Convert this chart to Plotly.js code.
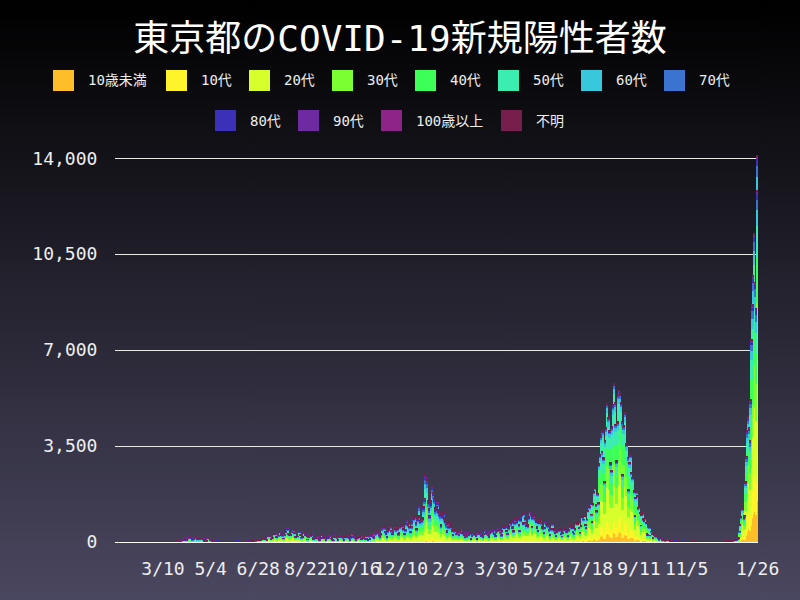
<!DOCTYPE html>
<html><head><meta charset="utf-8">
<script src="https://cdn.plot.ly/plotly-3.0.1.min.js"></script>
<style>
html{background:#4a4760;margin:0;padding:0}
body{margin:0;padding:0;width:800px;height:600px;overflow:hidden;background:linear-gradient(to bottom,#000000 0%,#4a4760 100%)}
#chart{width:800px;height:600px}
</style>
</head><body><div id="chart"></div><script>
// ---- data ----
const startDate = '2020-01-15';
const dailyTotals = [
// 2020-01 (15-31)
0,0,0,0,0,0,0,0,0,1,1,0,0,0,0,1,0,
// 2020-02
0,0,0,0,0,0,0,0,0,0,0,0,1,2,8,5,0,3,3,1,3,1,0,3,1,1,3,1,0,
// 2020-03
1,2,4,2,8,6,2,0,3,3,6,3,2,5,2,1,7,9,2,11,7,3,16,17,41,47,40,63,68,13,78,
// 2020-04
66,97,89,116,143,83,80,144,178,189,197,166,91,161,127,149,201,181,107,102,123,132,134,161,103,72,39,112,47,46,
// 2020-05
165,154,91,87,58,38,23,39,36,22,15,28,10,30,9,14,5,10,5,5,11,3,2,14,8,10,11,15,22,14,5,
// 2020-06
13,34,12,28,20,26,14,13,12,18,22,25,24,47,48,27,16,41,35,39,35,29,31,55,48,54,57,60,58,54,
// 2020-07
67,107,124,131,111,102,106,75,224,243,206,206,119,143,165,286,293,290,188,168,237,238,366,260,295,239,131,266,250,367,463,
// 2020-08
472,292,258,309,263,360,462,429,331,197,188,222,206,389,385,260,161,207,186,339,258,256,212,95,182,236,250,226,247,148,100,
// 2020-09
170,141,211,136,181,116,77,170,149,276,187,146,146,80,191,163,171,220,218,132,98,88,59,195,270,218,144,78,212,194,
// 2020-10
235,196,207,143,69,178,177,187,186,249,146,78,166,177,284,185,235,132,78,139,150,185,186,203,124,102,158,171,221,122,215,
// 2020-11
116,87,209,122,269,242,294,189,157,293,317,393,374,352,255,180,298,493,534,522,539,391,314,186,401,481,570,561,418,311,
// 2020-12
372,500,533,449,584,480,299,352,572,602,595,621,480,305,460,678,822,664,736,556,392,563,748,888,884,949,708,481,856,944,1337,
// 2021-01
783,814,816,884,1278,1591,2447,2392,2268,1494,1219,970,1433,1502,2044,1809,1592,1204,1240,1274,1471,1175,1070,986,618,1026,973,1064,868,769,633,
// 2021-02
393,556,676,734,577,639,429,276,412,491,434,307,369,371,266,378,445,353,353,327,272,178,275,213,340,270,337,329,
// 2021-03
121,232,316,279,301,293,237,116,290,340,335,304,239,239,175,300,409,323,303,342,256,187,337,420,394,376,430,313,234,364,414,
// 2021-04
475,440,446,355,249,399,555,545,537,570,421,306,510,591,729,667,759,543,405,711,843,861,759,876,635,425,828,925,1027,698,
// 2021-05
1050,879,708,609,621,591,907,1121,1032,573,925,969,1010,854,772,542,419,732,766,843,712,539,521,340,535,743,684,614,594,449,260,
// 2021-06
471,487,676,472,436,351,235,369,440,439,435,467,304,209,337,501,452,453,388,376,236,435,619,570,562,534,386,317,476,714,
// 2021-07
673,660,716,518,342,593,920,896,822,950,614,502,830,1149,1308,1271,1410,1008,727,1387,1832,1979,1359,1128,1763,1429,2848,3177,3865,3300,4058,
// 2021-08
3058,2195,3709,4166,5042,4515,4566,4066,2884,2612,4200,4989,5773,5094,4295,2962,4377,5386,5534,5405,5074,4392,2447,4220,4228,4704,3581,3581,3081,1915,2909,
// 2021-09
3168,2539,2362,2362,1853,968,1629,1834,1675,1242,1273,1067,611,1004,1052,831,782,862,697,302,253,537,531,235,382,299,154,267,267,218,
// 2021-10
200,200,161,87,149,144,138,82,74,60,49,77,72,62,57,66,40,29,36,41,36,26,32,19,17,29,36,21,21,22,22,
// 2021-11
9,29,16,21,25,19,18,18,20,25,24,28,29,29,6,23,21,18,14,24,13,8,20,9,17,18,14,8,9,13,
// 2021-12
14,20,17,22,13,12,16,21,19,21,26,16,10,15,21,21,16,26,32,20,31,22,37,40,32,37,35,46,76,64,78,
// 2022-01 (1-26)
79,84,103,151,390,641,922,1224,1223,871,962,2198,3124,4051,4561,4172,3709,5185,7377,8638,9699,11227,9468,8503,12813,14086
];

// age-group composition (%) by period
const periodStarts = ['2020-01-15','2020-02-01','2020-04-01','2020-06-01','2020-09-01','2020-11-01','2021-03-01','2021-07-01','2021-10-01','2022-01-01'];
const shareUnder10 = [0, 1, 2, 2, 3, 3, 4, 7, 5, 12];
const share10s     = [0, 2, 2, 4, 5, 6, 8, 11, 8, 14];
const share20s     = [0, 10, 20, 40, 28, 25, 28, 30, 22, 26];
const share30s     = [50, 12, 18, 22, 20, 18, 18, 19, 18, 16];
const share40s     = [50, 15, 16, 12, 15, 15, 15, 16, 16, 13];
const share50s     = [0, 17, 16, 9, 12, 13, 12, 10.5, 12, 9];
const share60s     = [0, 15, 10, 5, 7, 8, 6, 3.5, 8, 4.5];
const share70s     = [0, 15, 8, 3, 5, 6, 4, 1.5, 6, 3];
const share80s     = [0, 10, 6, 2, 4, 4, 3, 0.8, 3, 1.6];
const share90s     = [0, 3, 2, 1, 1, 2, 1.5, 0.3, 1, 0.6];
const share100plus = [0, 0, 0.05, 0.02, 0.03, 0.05, 0.03, 0.01, 0.02, 0.01];
const shareUnknown = [0, 0, 0.1, 0.1, 0.1, 0.1, 0.1, 0.1, 0.1, 0.1];

const categories = ['10歳未満','10代','20代','30代','40代','50代','60代','70代','80代','90代','100歳以上','不明'];
const colors = ['#FFBE28','#FFF42A','#D6FF2C','#7BFF33','#3CFF58','#3BEDB0','#38C8DC','#3A73D0','#3A31B8','#6E2AA0','#8E2388','#761E4C'];
const shareTable = [shareUnder10,share10s,share20s,share30s,share40s,share50s,share60s,share70s,share80s,share90s,share100plus,shareUnknown];

const tickDates  = ['2020-03-10','2020-05-04','2020-06-28','2020-08-22','2020-10-16','2020-12-10','2021-02-03','2021-03-30','2021-05-24','2021-07-18','2021-09-11','2021-11-05','2022-01-26'];
const tickLabels = ['3/10','5/4','6/28','8/22','10/16','12/10','2/3','3/30','5/24','7/18','9/11','11/5','1/26'];

// ---- build ----
function isoDay(i){
  const d = new Date(startDate + 'T00:00:00Z');
  d.setUTCDate(d.getUTCDate() + i);
  return d.toISOString().slice(0,10);
}
const dates = dailyTotals.map((_, i) => isoDay(i));
function periodIndex(ds){
  let p = 0;
  for (let k = 0; k < periodStarts.length; k++) if (ds >= periodStarts[k]) p = k;
  return p;
}
// split each day's total into integer counts (largest remainder)
const series = categories.map(() => []);
dates.forEach((ds, i) => {
  const p = periodIndex(ds);
  const sh = shareTable.map(a => a[p]);
  const sum = sh.reduce((a, b) => a + b, 0);
  const tot = dailyTotals[i];
  const raw = sh.map(s => tot * s / sum);
  const fl = raw.map(Math.floor);
  let rem = tot - fl.reduce((a, b) => a + b, 0);
  const order = raw.map((r, k) => [r - fl[k], k]).sort((a, b) => b[0] - a[0]);
  for (let j = 0; j < rem; j++) fl[order[j][1]] += 1;
  fl.forEach((v, k) => series[k].push(v));
});

const mono = 'DejaVu Sans Mono, Noto Sans CJK JP, sans-serif';
const traces = categories.map((name, k) => ({
  type: 'bar', name: name, x: dates, y: series[k],
  marker: {color: colors[k], line: {color: colors[k], width: 1.5}},
  showlegend: false, hoverinfo: 'x+y+name'
}));

const M = {l:115, r:42, t:150, b:58};
const PW = 800 - M.l - M.r, PH = 600 - M.t - M.b;
const px2x = px => (px - M.l) / PW;
const py2y = py => 1 - (py - M.t) / PH;

// custom legend (two rows)
const legendRows = [
  {items: [0,1,2,3,4,5,6,7], squareX: [53,166,249,332,415,498,581,664], top: 70},
  {items: [8,9,10,11], squareX: [215,298,381,501], top: 110}
];
const shapes = [], annotations = [];
legendRows.forEach(row => {
  row.items.forEach((k, j) => {
    const sx = row.squareX[j];
    shapes.push({type:'rect', xref:'paper', yref:'paper',
      x0: px2x(sx), x1: px2x(sx + 21), y0: py2y(row.top + 21), y1: py2y(row.top),
      fillcolor: colors[k], line: {width: 0}});
    annotations.push({xref:'paper', yref:'paper', x: px2x(sx + 33), y: py2y(row.top + 10.5),
      xanchor:'left', yanchor:'middle', showarrow:false, text: categories[k],
      font: {family: mono, size: 14, color: '#eeeeee'}});
  });
});

const layout = {
  width: 800, height: 600,
  paper_bgcolor: 'rgba(0,0,0,0)', plot_bgcolor: 'rgba(0,0,0,0)',
  margin: M,
  barmode: 'stack', bargap: 0,
  title: {text: '東京都のCOVID-19新規陽性者数', xref:'container', yref:'container', x: 0.5, y: 1 - 38/600,
    xanchor:'center', yanchor:'middle', font: {family: mono, size: 36, color: '#ffffff'}},
  xaxis: {type:'date', range: ['2020-01-14 12:00','2022-01-26 12:00'],
    tickmode:'array', tickvals: tickDates, ticktext: tickLabels, tickangle: 0,
    showgrid:false, zeroline:false, showline:false,
    ticks:'outside', ticklen: 10, tickcolor:'rgba(0,0,0,0)',
    tickfont: {family: mono, size: 18, color: '#eeeeee'}},
  yaxis: {range: [0, 14300], tickmode:'array', tickvals: [0,3500,7000,10500,14000], tickformat: ',',
    showgrid:true, gridcolor:'#e8e8e8', gridwidth:1,
    zeroline:true, zerolinecolor:'#ffffff', zerolinewidth:1, showline:false,
    ticks:'outside', ticklen: 13, tickcolor:'rgba(0,0,0,0)',
    tickfont: {family: mono, size: 18, color: '#eeeeee'}},
  shapes: shapes, annotations: annotations,
  showlegend: false
};
Plotly.newPlot('chart', traces, layout, {displayModeBar:false, staticPlot:true});
</script></body></html>
